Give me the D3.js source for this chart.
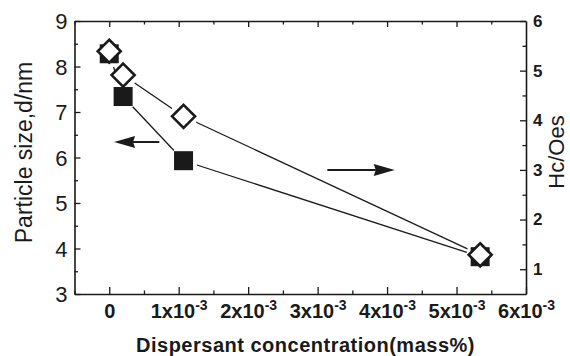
<!DOCTYPE html>
<html>
<head>
<meta charset="utf-8">
<script src="https://cdn.jsdelivr.net/npm/d3@7"></script>
<style>
  body { margin: 0; background: #fff; }
  svg { display: block; font-family: "Liberation Sans", Arial, sans-serif; }
</style>
</head>
<body>
<svg id="chart" width="570" height="356"></svg>
<script>
const width = 570;
const height = 356;

// data
const concentration = [0, 0.0002, 0.00107, 0.00534];
const particleSize = [8.28, 7.34, 5.93, 3.82];   // left axis, squares
const coercivity = [5.39, 4.91, 4.08, 1.29];       // right axis, diamonds

const xTicks = [0, 0.001, 0.002, 0.003, 0.004, 0.005, 0.006];
const xTickLabels = ["0", "1x10|-3", "2x10|-3", "3x10|-3", "4x10|-3", "5x10|-3", "6x10|-3"];
const xMinor = [-0.0005, 0.0005, 0.0015, 0.0025, 0.0035, 0.0045, 0.0055];
const leftTicks = [3, 4, 5, 6, 7, 8, 9];
const leftMinor = [3.5, 4.5, 5.5, 6.5, 7.5, 8.5];
const rightTicks = [1, 2, 3, 4, 5, 6];
const rightMinor = [1.5, 2.5, 3.5, 4.5, 5.5];

// arrows: which axis they belong to, start and end in data units
const arrows = [
    {axis: "left", y: 6.34, from: 0.00072, to: 0.00007},
    {axis: "right", y: 3.0, from: 0.00314, to: 0.00411}
];

const margin = {top: 21, right: 44, bottom: 62, left: 74.5};
const ink = "#1a1a1a";

const svg = d3.select("#chart");

const x = d3.scaleLinear()
    .domain([-0.0005, 0.006])
    .range([margin.left, width - margin.right]);

const yLeft = d3.scaleLinear()
    .domain([3, 9])
    .range([height - margin.bottom, margin.top]);

const yRight = d3.scaleLinear()
    .domain([0.5, 6])
    .range([height - margin.bottom, margin.top]);

const bottomY = height - margin.bottom;
const rightX = width - margin.right;

function styleAxis(g) {
    g.select(".domain").attr("stroke", ink).attr("stroke-width", 1.6);
    g.selectAll(".tick line").attr("stroke", ink).attr("stroke-width", 1.3);
    g.selectAll("text").attr("fill", ink);
}

// bottom axis, ticks inward
const xAxis = svg.append("g")
    .attr("transform", `translate(0,${bottomY})`)
    .call(d3.axisBottom(x).tickValues(xTicks).tickSizeInner(-7).tickSizeOuter(0)
        .tickPadding(10).tickFormat(""))
    .call(styleAxis);

xAxis.selectAll(".tick text")
    .attr("font-size", 20)
    .attr("font-weight", "bold")
    .each(function(d, i) {
        const parts = xTickLabels[i].split("|");
        const t = d3.select(this);
        t.append("tspan").text(parts[0]);
        if (parts[1]) {
            t.append("tspan").attr("dy", -8).attr("font-size", 14).text(parts[1]);
        }
    });

svg.append("g")
    .attr("transform", `translate(0,${bottomY})`)
    .call(d3.axisBottom(x).tickValues(xMinor).tickSize(-3.5).tickFormat(""))
    .call(g => g.select(".domain").remove())
    .call(styleAxis);

// top axis, no labels
svg.append("g")
    .attr("transform", `translate(0,${margin.top})`)
    .call(d3.axisTop(x).tickValues(xTicks.slice(0, -1)).tickSizeInner(-6).tickSizeOuter(0).tickFormat(""))
    .call(styleAxis);

svg.append("g")
    .attr("transform", `translate(0,${margin.top})`)
    .call(d3.axisTop(x).tickValues(xMinor).tickSize(-3.5).tickFormat(""))
    .call(g => g.select(".domain").remove())
    .call(styleAxis);

// left axis
svg.append("g")
    .attr("transform", `translate(${margin.left},0)`)
    .call(d3.axisLeft(yLeft).tickValues(leftTicks).tickSizeInner(-6).tickSizeOuter(0)
        .tickPadding(7).tickFormat(d3.format("d")))
    .call(styleAxis)
    .call(g => g.selectAll(".tick text").attr("font-size", 22).attr("dy", "0.36em"));

svg.append("g")
    .attr("transform", `translate(${margin.left},0)`)
    .call(d3.axisLeft(yLeft).tickValues(leftMinor).tickSize(-3.5).tickFormat(""))
    .call(g => g.select(".domain").remove())
    .call(styleAxis);

// right axis
svg.append("g")
    .attr("transform", `translate(${rightX},0)`)
    .call(d3.axisRight(yRight).tickValues(rightTicks).tickSizeInner(-6).tickSizeOuter(0)
        .tickPadding(7).tickFormat(d3.format("d")))
    .call(styleAxis)
    .call(g => g.selectAll(".tick text").attr("font-size", 17).attr("font-weight", "bold"));

svg.append("g")
    .attr("transform", `translate(${rightX},0)`)
    .call(d3.axisRight(yRight).tickValues(rightMinor).tickSize(-3.5).tickFormat(""))
    .call(g => g.select(".domain").remove())
    .call(styleAxis);

// axis titles
svg.append("text")
    .attr("transform", `translate(32,152.5) rotate(-90)`)
    .attr("text-anchor", "middle")
    .attr("font-size", 23)
    .attr("fill", ink)
    .text("Particle size,d/nm");

svg.append("text")
    .attr("transform", `translate(564,152) rotate(-90)`)
    .attr("text-anchor", "middle")
    .attr("font-size", 22)
    .attr("fill", ink)
    .text("Hc/Oes");

svg.append("text")
    .attr("x", 305.5)
    .attr("y", 352)
    .attr("text-anchor", "middle")
    .attr("font-size", 20)
    .attr("font-weight", "bold")
    .attr("letter-spacing", 0.5)
    .attr("fill", ink)
    .text("Dispersant concentration(mass%)");

// connecting lines, stopped short of the symbols
const gap = 14;
function drawSeries(values, yScale) {
    const pts = concentration.map((c, i) => [x(c), yScale(values[i])]);
    for (let i = 0; i < pts.length - 1; i++) {
        const [x1, y1] = pts[i];
        const [x2, y2] = pts[i + 1];
        const len = Math.hypot(x2 - x1, y2 - y1);
        if (len <= gap * 2) continue;
        const ux = (x2 - x1) / len, uy = (y2 - y1) / len;
        svg.append("line")
            .attr("x1", x1 + ux * gap).attr("y1", y1 + uy * gap)
            .attr("x2", x2 - ux * gap).attr("y2", y2 - uy * gap)
            .attr("stroke", ink)
            .attr("stroke-width", 1.3);
    }
}
drawSeries(particleSize, yLeft);
drawSeries(coercivity, yRight);

// squares: particle size
const sq = 19;
svg.selectAll(".sq")
    .data(concentration)
    .enter()
    .append("rect")
    .attr("class", "sq")
    .attr("x", d => x(d) - sq / 2)
    .attr("y", (d, i) => yLeft(particleSize[i]) - sq / 2)
    .attr("width", sq)
    .attr("height", sq)
    .attr("fill", ink);

// diamonds: coercivity
const r = 11.5;
svg.selectAll(".dia")
    .data(concentration)
    .enter()
    .append("path")
    .attr("class", "dia")
    .attr("transform", (d, i) => `translate(${x(d)},${yRight(coercivity[i])})`)
    .attr("d", `M0,${-r}L${r},0L0,${r}L${-r},0Z`)
    .attr("fill", "#fff")
    .attr("stroke", ink)
    .attr("stroke-width", 2.6)
    .attr("stroke-linejoin", "miter");

// arrows
const headLen = 21, headHalf = 6;
arrows.forEach(a => {
    const yy = (a.axis === "left" ? yLeft : yRight)(a.y);
    const x0 = x(a.from), x1 = x(a.to);
    const dir = Math.sign(x1 - x0);
    svg.append("line")
        .attr("x1", x0).attr("y1", yy)
        .attr("x2", x1 - dir * (headLen - 2)).attr("y2", yy)
        .attr("stroke", ink)
        .attr("stroke-width", 2);
    svg.append("path")
        .attr("d", `M${x1},${yy}L${x1 - dir * headLen},${yy - headHalf}L${x1 - dir * (headLen - 2)},${yy}L${x1 - dir * headLen},${yy + headHalf}Z`)
        .attr("fill", ink);
});
</script>
</body>
</html>
